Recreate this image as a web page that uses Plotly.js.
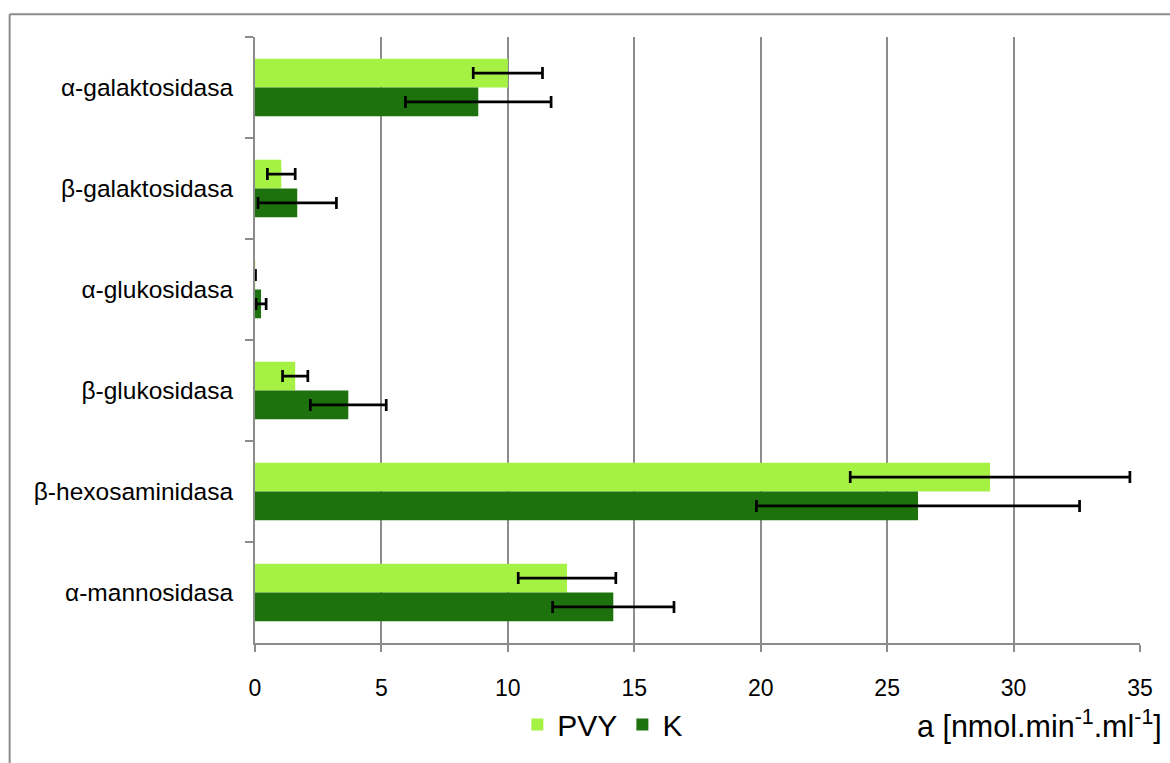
<!DOCTYPE html>
<html>
<head>
<meta charset="utf-8">
<script src="https://cdn.plot.ly/plotly-3.0.1.min.js"></script>
<style>
html,body{margin:0;padding:0;background:#fff;}
#chart{width:1170px;height:763px;}
</style>
</head>
<body>
<div id="chart"></div>
<script>
// Categories, top to bottom
const categories = ["α-galaktosidasa", "β-galaktosidasa", "α-glukosidasa", "β-glukosidasa", "β-hexosaminidasa", "α-mannosidasa"];
// Series values
const pvyValues = [10.0, 1.04, 0.01, 1.59, 29.07, 12.34];
const pvyErrors = [1.37, 0.55, 0.01, 0.50, 5.53, 1.93];
const kValues = [8.83, 1.67, 0.24, 3.69, 26.22, 14.17];
const kErrors = [2.88, 1.55, 0.20, 1.50, 6.39, 2.40];
const xTicks = [0, 5, 10, 15, 20, 25, 30, 35];
const seriesNames = ["PVY", "K"];
const axisTitle = "a [nmol.min<sup>-1</sup>.ml<sup>-1</sup>]";

const FONT = "Liberation Sans, Arial, sans-serif";
const GRID = "#8c8c8c";

const traces = [
  {
    type: "bar", orientation: "h", name: seriesNames[0],
    y: categories, x: pvyValues,
    marker: {color: "#a6f244"},
    error_x: {type: "data", array: pvyErrors, visible: true, color: "#000", thickness: 2.7, width: 6}
  },
  {
    type: "bar", orientation: "h", name: seriesNames[1],
    y: categories, x: kValues,
    marker: {color: "#1e720e"},
    error_x: {type: "data", array: kErrors, visible: true, color: "#000", thickness: 2.7, width: 6}
  }
];

const L = 254.5, R = 1140, T = 37, B = 647;
const pw = R - L, ph = B - T;
const px = v => (v - L) / pw;
const py = v => (B - v) / ph;

const layout = {
  width: 1170, height: 763,
  margin: {l: L, r: 1170 - R, t: T, b: 763 - B, pad: 0},
  paper_bgcolor: "#fff", plot_bgcolor: "#fff",
  font: {family: FONT, color: "#000", size: 23},
  barmode: "group", bargap: 0.43, bargroupgap: 0,
  showlegend: true,
  legend: {
    orientation: "h", x: px(517), xanchor: "left", y: py(729), yanchor: "middle",
    font: {family: FONT, size: 30, color: "#000"},
    itemwidth: 30, tracegroupgap: 0, bgcolor: "rgba(0,0,0,0)"
  },
  xaxis: {
    range: [0, 35], tickvals: xTicks, ticktext: xTicks.map(String),
    showgrid: true, gridcolor: GRID, gridwidth: 2,
    showline: true, linecolor: GRID, linewidth: 2,
    ticks: "outside", ticklen: 7, tickcolor: GRID, tickwidth: 2,
    tickfont: {family: FONT, size: 23, color: "#000"},
    ticklabelstandoff: 16,
    zeroline: false, fixedrange: true
  },
  yaxis: {
    type: "category", autorange: "reversed",
    showgrid: false, showline: true, linecolor: GRID, linewidth: 2,
    ticks: "outside", tickson: "boundaries", ticklen: 8, tickcolor: GRID, tickwidth: 2,
    tickfont: {family: FONT, size: 24.5, color: "#000"},
    ticklabelstandoff: 15,
    zeroline: false, fixedrange: true
  },
  annotations: [
    {
      xref: "paper", yref: "paper", x: px(1164), y: py(729),
      xanchor: "right", yanchor: "middle", showarrow: false,
      text: axisTitle, font: {family: FONT, size: 30.5, color: "#000"}
    }
  ],
  shapes: [
    {type: "line", xref: "paper", yref: "paper", x0: px(9), x1: px(1175), y0: py(14), y1: py(14), line: {color: GRID, width: 2}},
    {type: "line", xref: "paper", yref: "paper", x0: px(9), x1: px(9), y0: py(14), y1: py(770), line: {color: GRID, width: 2}}
  ]
};

Plotly.newPlot("chart", traces, layout, {displayModeBar: false, staticPlot: true});
</script>
</body>
</html>
